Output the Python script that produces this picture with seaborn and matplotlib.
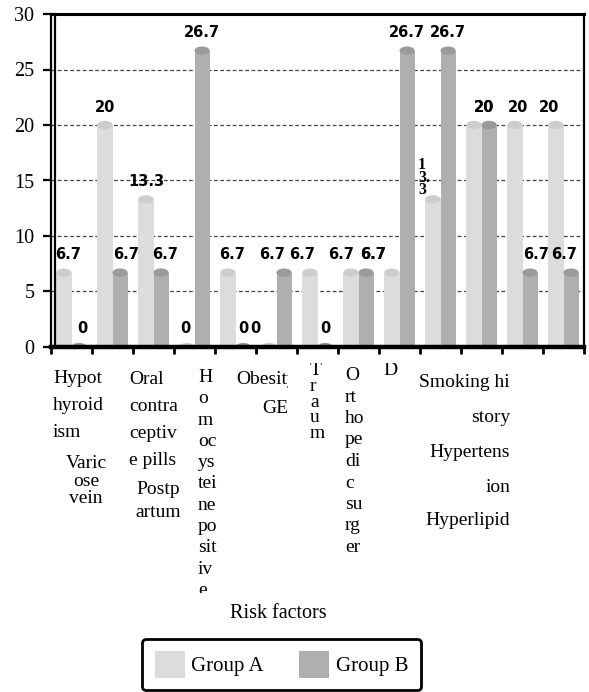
import numpy as np
import pandas as pd
import matplotlib
matplotlib.use("Agg")
import matplotlib.pyplot as plt
import seaborn as sns
from matplotlib.patches import Ellipse, Patch
from matplotlib.lines import Line2D
from matplotlib.transforms import Bbox, TransformedBbox, ScaledTranslation

# ---------------- data ----------------
categories = ["Hypothyroidism", "Varicose vein", "Oral contraceptive pills", "Postpartum",
              "Homocysteine positive", "Obesity", "GE", "Trauma", "Orthopedic surgery", "D",
              "Smoking history", "Hypertension", "Hyperlipid"]
groups = ["Group A", "Group B"]
group_a = [6.7, 20, 13.3, 0, 6.7, 0, 6.7, 6.7, 6.7, 13.3, 20, 20, 20]
group_b = [0, 6.7, 6.7, 26.7, 0, 6.7, 0, 6.7, 26.7, 26.7, 20, 6.7, 6.7]
tick_labels = ["Hypot\nhyroid\nism", "Varic\nose\nvein", "Oral\ncontra\nceptiv\ne pills",
               "Postp\nartum", "H\no\nm\noc\nys\ntei\nne\npo\nsit\niv\ne", "Obesity", "GE",
               "T\nr\na\nu\nm", "O\nrt\nho\npe\ndi\nc\nsu\nrg\ner", "D",
               "Smoking hi\nstory", "Hypertens\nion", "Hyperlipid"]
y_ticks = [0, 5, 10, 15, 20, 25, 30]
x_title = "Risk factors"

# ---------------- style / layout ----------------
W, H, DPI = 589, 692, 100
body_colors = ["#dcdcdc", "#afafaf"]
cap_colors = ["#cdcdcd", "#9a9a9a"]
SERIF = "Liberation Serif"

# (x px, first baseline px, line spacing px, ha, clip rect px or None)
label_layout = [
    (53, 383, 27, "left", None),
    (86, 468, 17.5, "center", None),
    (129, 384, 27, "left", None),
    (158, 494, 23, "center", None),
    (198, 382, 21.3, "left", (150, 340, 260, 593)),
    (236, 384, 0, "left", (200, 340, 288, 420)),
    (288, 413, 0, "right", None),
    (310, 375, 15.8, "left", (290, 363, 340, 460)),
    (345, 380, 21.5, "left", None),
    (383, 375, 0, "left", (370, 363, 420, 420)),
    (510, 387, 35, "right", None),
    (510, 457, 35, "right", None),
    (510, 525, 0, "right", None),
]
# horizontal nudges (px) of value labels: (category index, group index) -> dx
label_dx = {(0, 0): 4, (0, 1): 3, (1, 1): 6, (2, 1): 4, (3, 0): -2, (4, 0): 4,
            (5, 0): -14, (5, 1): -12, (6, 0): -8, (7, 0): -10, (7, 1): 7,
            (10, 0): 10, (11, 0): 3, (11, 1): 6, (12, 0): -7, (12, 1): -7}
# labels drawn exactly on top of another (equal) label, as in the source chart
label_anchor = {(8, 0): (7, 1), (10, 1): (10, 0)}
stacked_label = (9, 0)

fig = plt.figure(figsize=(W / DPI, H / DPI), dpi=DPI)
ax = fig.add_axes([51 / W, 1 - 347 / H, (584 - 51) / W, (347 - 14) / H])

df = pd.DataFrame({
    "Risk factor": categories * 2,
    "Group": [groups[0]] * len(categories) + [groups[1]] * len(categories),
    "Percent": group_a + group_b,
})
sns.barplot(data=df, x="Risk factor", y="Percent", hue="Group", order=categories,
            hue_order=groups, palette=dict(zip(groups, body_colors)), width=0.74,
            saturation=1, errorbar=None, legend=False, ax=ax, linewidth=0, zorder=2)

ax.set_xlim(-0.5, len(categories) - 0.5)
ax.set_ylim(0, 30)

centers = {}
for j, cont in enumerate(ax.containers):
    for i, p in enumerate(cont):
        centers[(i, j)] = (p.get_x() + p.get_width() / 2, p.get_height())

# cylinder caps + value labels
for j, cont in enumerate(ax.containers):
    for i, p in enumerate(cont):
        cx, h = centers[(i, j)]
        ax.add_patch(Ellipse((cx, h), p.get_width(), 0.75, fc=cap_colors[j], ec="none", zorder=3))
        val = (group_a if j == 0 else group_b)[i]
        txt = f"{val:g}"
        if (i, j) == stacked_label:
            ax.annotate("1\n3.\n3", (cx, h), xytext=(-15, 5), textcoords="offset pixels",
                        ha="left", va="baseline", multialignment="left", linespacing=0.72,
                        fontsize=11.5, family=SERIF, fontweight="bold",
                        annotation_clip=False, zorder=5)
            continue
        key = label_anchor.get((i, j), (i, j))
        ax_x, _ = centers[key]
        ax.annotate(txt, (ax_x, h), xytext=(label_dx.get(key, 0), 13.5),
                    textcoords="offset pixels", ha="center", va="baseline",
                    fontsize=10.5, fontweight="bold", family="DejaVu Sans",
                    annotation_clip=False, zorder=5)

# grid and spines
ax.set_axisbelow(True)
ax.yaxis.grid(True, linestyle=(0, (3, 2)), color="#444444", linewidth=0.9)
ax.xaxis.grid(False)
for side, lw in [("left", 1.6), ("right", 1.6), ("top", 2.2), ("bottom", 3.2)]:
    ax.spines[side].set_linewidth(lw)
    ax.spines[side].set_color("black")
    ax.spines[side].set_zorder(6)
ax.add_line(Line2D([0, 0], [0, 1], transform=ax.transAxes + ScaledTranslation(4 / DPI, 0, fig.dpi_scale_trans),
                   color="black", lw=1.6, clip_on=False, zorder=6))

ax.set_yticks(y_ticks)
ax.set_yticklabels([str(v) for v in y_ticks], fontsize=14.5, family=SERIF)
ax.tick_params(axis="y", length=6, width=1.6, direction="out", pad=6)
ax.set_xticks(np.arange(-0.5, len(categories), 1))
ax.set_xticklabels([])
ax.tick_params(axis="x", length=5, width=2, direction="out")
ax.set_xlabel("")
ax.set_ylabel("")

# category labels
for text, (x, b0, sp, ha, clip) in zip(tick_labels, label_layout):
    for k, line in enumerate(text.split("\n")):
        t = fig.text(x / W, 1 - (b0 + k * sp) / H, line, ha=ha, va="baseline",
                     fontsize=14, family=SERIF)
        if clip is not None:
            x0, y0, x1, y1 = clip
            bb = Bbox.from_extents(x0 / W, 1 - y1 / H, x1 / W, 1 - y0 / H)
            t.set_clip_on(True)
            t.set_clip_box(TransformedBbox(bb, fig.transFigure))

fig.text(278 / W, 1 - 618 / H, x_title, ha="center", va="baseline", fontsize=14.5, family=SERIF)

handles = [Patch(facecolor=c, edgecolor="none", label=g) for g, c in zip(groups, body_colors)]
leg = fig.legend(handles=handles, loc="center", bbox_to_anchor=(281.5 / W, 1 - 664.5 / H), ncol=2,
                 prop={"family": SERIF, "size": 15}, handlelength=1.45, handleheight=1.6,
                 handletextpad=0.3, columnspacing=1.7, borderpad=0.6, borderaxespad=0,
                 frameon=True, fancybox=True, edgecolor="black", framealpha=1)
leg.get_frame().set_linewidth(2)

fig.savefig("out.png", dpi=DPI)
